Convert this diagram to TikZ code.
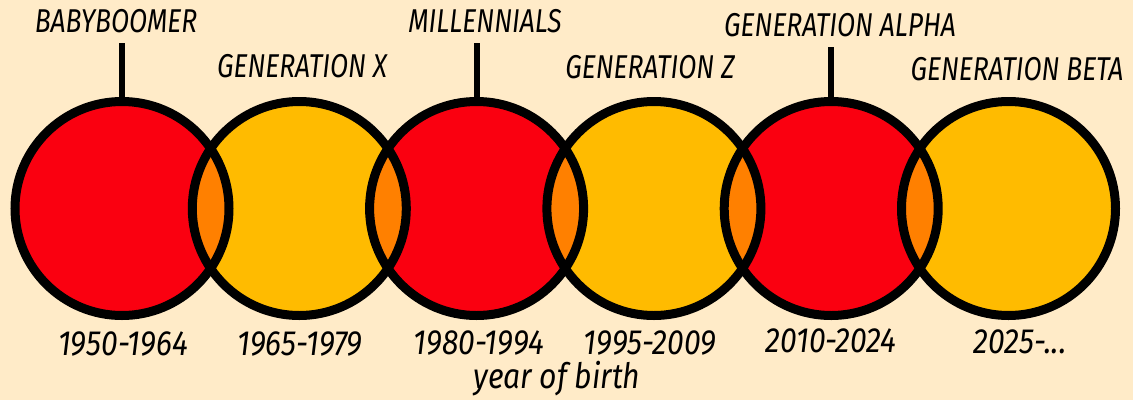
\documentclass[tikz,border=0pt]{standalone}
\usepackage{fontspec}
\setmainfont{Fira Sans}[FakeStretch=0.8]
\newfontfamily\yearfont{Fira Sans}[FakeStretch=0.86]
\definecolor{bgcream}{HTML}{FFEBC8}
\definecolor{genred}{HTML}{FA0010}
\definecolor{genyellow}{HTML}{FFBB00}
\definecolor{genorange}{HTML}{FF8000}
\begin{document}
\begin{tikzpicture}[x=1pt,y=-1pt,
  gencircle/.style={circle,minimum size=214pt,inner sep=0pt,outer sep=0pt,draw=none},
  genlabel/.style={font=\fontsize{33}{33}\selectfont\itshape,anchor=base,inner sep=10pt},
  yearlabel/.style={font=\yearfont\fontsize{35}{35}\selectfont\itshape,anchor=base,inner sep=0pt},
  outline/.style={draw=black,line width=9pt},
  stem/.style={draw=black,line width=6pt}]
\fill[bgcream] (0,0) rectangle (1133,400);
\useasboundingbox (0,0) rectangle (1133,400);
% circles
\foreach \i/\col in {1/genred,2/genyellow,3/genred,4/genyellow,5/genred,6/genyellow}{
  \node[gencircle,fill=\col] (c\i) at ({122+177.3*(\i-1)},208.5) {};
}
% overlaps
\foreach \i/\j in {1/2,2/3,3/4,4/5,5/6}{
  \begin{scope}
    \clip (c\i.center) circle (107pt);
    \fill[genorange] (c\j.center) circle (107pt);
  \end{scope}
}
% labels
\node[genlabel] (l1) at (116,32) {BABYBOOMER};
\node[genlabel] (l2) at (302,77) {GENERATION X};
\node[genlabel] (l3) at (485,32) {MILLENNIALS};
\node[genlabel] (l4) at (650,78) {GENERATION Z};
\node[genlabel] (l5) at (840,36) {GENERATION ALPHA};
\node[genlabel] (l6) at (1017,80) {GENERATION BETA};
% stems
\draw[stem] (c1.north) -- (c1.north |- l1.south);
\draw[stem] (c3.north) -- (c3.north |- l3.south);
\draw[stem] (c5.north) -- (c5.north |- l5.south);
% outlines
\foreach \i in {1,...,6}{
  \draw[outline] (c\i.center) circle (107pt);
}
% years
\node[yearlabel] (y1) at (123,355) {1950-1964};
\node[yearlabel] (y2) at (300,355) {1965-1979};
\node[yearlabel] (y3) at (479,354) {1980-1994};
\node[yearlabel] (y4) at (650,354) {1995-2009};
\node[yearlabel] (y5) at (831,352) {2010-2024};
\node[yearlabel] (y6) at (1020,353) {2025-...};
\node[yearlabel] (yob) at (557,388) {year of birth};
\end{tikzpicture}
\end{document}
